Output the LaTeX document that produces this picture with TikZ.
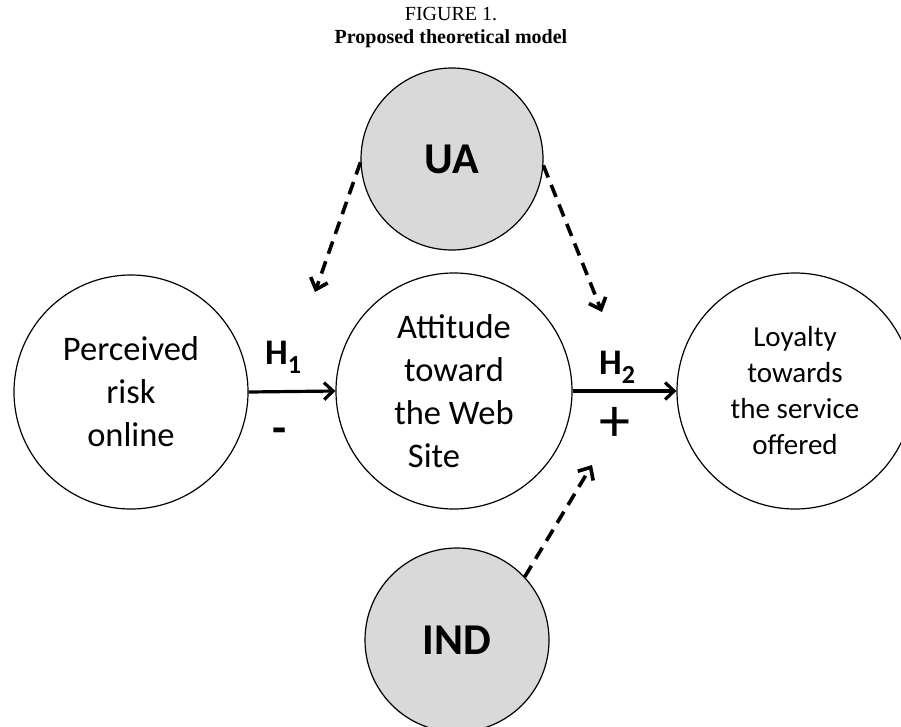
\documentclass[tikz,border=0pt]{standalone}
\usepackage{fontspec}
\setmainfont{Liberation Serif}
\newfontfamily\calfont{Carlito}
\usetikzlibrary{arrows.meta}
\definecolor{modfill}{HTML}{D9D9D9}
\begin{document}
\begin{tikzpicture}[x=1pt,y=-1pt,
  construct/.style={circle, draw=black, line width=1.2pt, inner sep=0pt,
    minimum size=#1, align=center,
    font=\calfont\fontsize{34.5}{43}\selectfont},
  moderator/.style={construct=#1, fill=modfill,
    font=\calfont\bfseries\fontsize{44}{50}\selectfont},
  hyplabel/.style={inner sep=0pt, font=\calfont\bfseries\fontsize{36}{40}\selectfont},
  signlabel/.style={inner sep=0pt},
  effect/.style={line width=3.2pt, -{Straight Barb[length=9pt,width=17pt]}},
  moderation/.style={line width=3.6pt, dash pattern=on 13pt off 8pt,
    -{Straight Barb[length=10pt,width=18pt]}}]
\useasboundingbox (0,0) rectangle (901,726);

% title
\node[inner sep=0pt, font=\fontsize{20}{24}\selectfont] (fig) at (451,14) {FIGURE 1.};
\node[inner sep=0pt, font=\bfseries\fontsize{20}{24}\selectfont] (ttl) at (451,39) {Proposed theoretical model};

% constructs
\node[construct=234pt] (risk) at (131,392) {Perceived\\risk\\online};
\node[construct=236pt] (att) at (454,391) {Attitude\\toward\\the Web\\\hspace*{-40pt}Site};
\node[construct=236pt, font=\calfont\fontsize{29}{36}\selectfont] (loy) at (795,391)
  {Loyalty\\towards\\the service\\offered};

% moderators
\node[moderator=182pt] (ua) at (452,159) {UA};
\node[moderator=184pt] (ind) at (457,640) {IND};

% direct effects
\draw[effect] (risk.east) -- (att.west);
\draw[effect] (att.east) -- (loy.west);

\node[hyplabel] (h1) at (283,357) {H\raisebox{-9pt}{\fontsize{26}{26}\selectfont 1}};
\node[hyplabel] (h2) at (617,367) {H\raisebox{-9pt}{\fontsize{26}{26}\selectfont 2}};
\node[signlabel, font=\calfont\bfseries\fontsize{46}{46}\selectfont] (neg) at (280,436) {-};
\node[signlabel, font=\calfont\fontsize{62}{62}\selectfont] (pos) at (615,424) {+};

% moderating effects
\coordinate (m1) at (315,292);
\coordinate (m2) at (602,312);
\coordinate (m3) at (592,465);
\draw[moderation] (ua.182) -- (m1);
\draw[moderation] (ua.-4) -- (m2);
\draw[moderation] (ind.43) -- (m3);
\end{tikzpicture}
\end{document}
